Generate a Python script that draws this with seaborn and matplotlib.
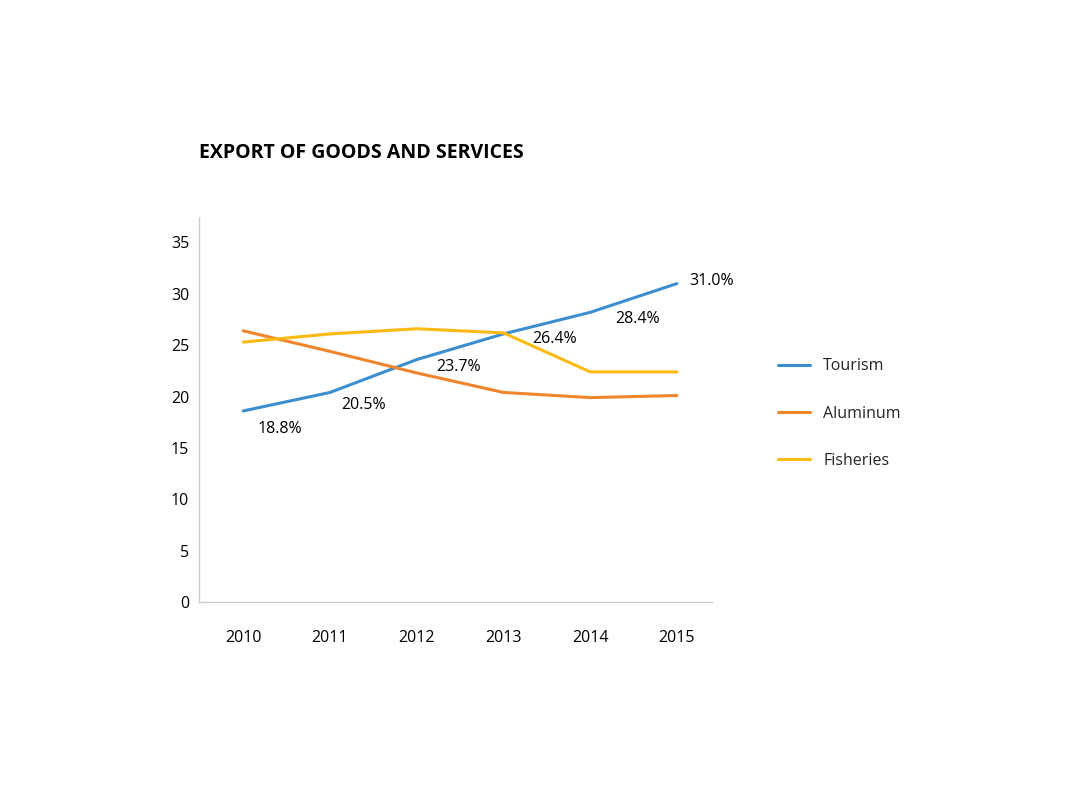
import pandas as pd
import matplotlib.pyplot as plt
import seaborn as sns

# Data
years = ["2010", "2011", "2012", "2013", "2014", "2015"]
tourism = [18.6, 20.4, 23.6, 26.1, 28.2, 31.0]
aluminum = [26.4, 24.4, 22.3, 20.4, 19.9, 20.1]
fisheries = [25.3, 26.1, 26.6, 26.2, 22.4, 22.4]
tourism_labels = ["18.8%", "20.5%", "23.7%", "26.4%", "28.4%", "31.0%"]
series_names = ["Tourism", "Aluminum", "Fisheries"]

sns.set_theme(style="white")
plt.rcParams['font.family'] = ['Open Sans', 'DejaVu Sans']

df = pd.DataFrame({
    "year": years * 3,
    "value": tourism + aluminum + fisheries,
    "series": [s for s in series_names for _ in years],
})
df["x"] = df["year"].map({y: i for i, y in enumerate(years)})

palette = {"Tourism": "#3B8ED0", "Aluminum": "#F0852D", "Fisheries": "#FDBA12"}

fig = plt.figure(figsize=(10.67, 8), dpi=100)
ax = fig.add_axes([0.1865, 0.2475, 0.4805, 0.4815])

sns.lineplot(data=df, x="x", y="value", hue="series", hue_order=series_names,
             palette=palette, linewidth=2.2, ax=ax, legend=False)

# labels on the tourism line (offsets in points)
offsets = [(10, -13), (8, -9), (14, -5), (21, -4), (18, -5), (9, 2)]
for i, (val, lab) in enumerate(zip(tourism, tourism_labels)):
    ax.annotate(lab, (i, val), xytext=offsets[i], textcoords="offset points",
                ha="left", va="center", fontsize=11.5, color="#000000")

ax.set_xlim(-0.51, 5.4)
ax.set_ylim(0, 37.5)
ax.set_xticks(range(len(years)))
ax.set_xticklabels(years)
ax.set_yticks(range(0, 36, 5))
ax.set_xlabel("")
ax.set_ylabel("")

for side in ["top", "right"]:
    ax.spines[side].set_visible(False)
for side in ["left", "bottom"]:
    ax.spines[side].set_color("#cccccc")
    ax.spines[side].set_linewidth(1)

ax.tick_params(axis="y", direction="in", length=11, width=0.8, color="#cccccc",
               pad=7, labelsize=11.5, labelcolor="#000000")
ax.tick_params(axis="x", length=0, pad=20, labelsize=11.5, labelcolor="#000000")

fig.text(0.1865, 0.809, "EXPORT OF GOODS AND SERVICES", fontsize=14,
         fontweight="bold", color="#000000", va="center", ha="left")

handles = [plt.Line2D([], [], color=palette[s], linewidth=2.2) for s in series_names]
fig.legend(handles, series_names, loc="upper left", bbox_to_anchor=(0.716, 0.57),
           frameon=False, fontsize=11.5, handlelength=2.0, handletextpad=0.8,
           labelspacing=1.95)

fig.savefig("out.png", dpi=100, facecolor="white")
